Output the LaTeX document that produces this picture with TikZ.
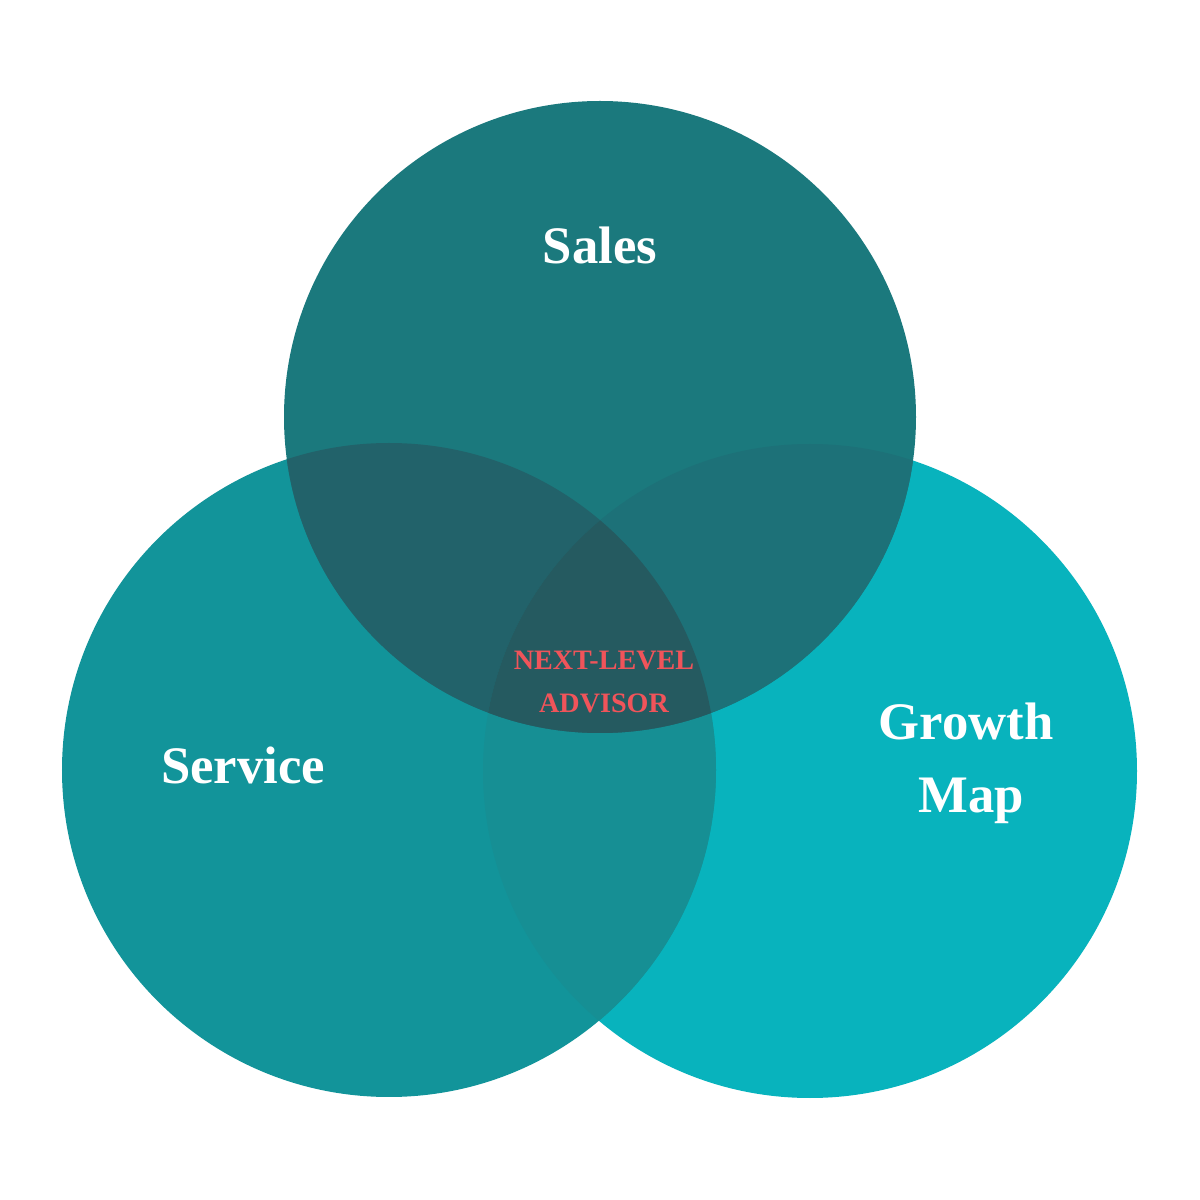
\documentclass[tikz,border=0pt]{standalone}
\usepackage{fontspec}
\setmainfont{Liberation Serif}
\definecolor{topc}{HTML}{1B797D}
\definecolor{leftc}{HTML}{12949A}
\definecolor{rightc}{HTML}{08B3BD}
\definecolor{tlc}{HTML}{22626A}
\definecolor{trc}{HTML}{1D7178}
\definecolor{lrc}{HTML}{168F94}
\definecolor{midc}{HTML}{255A60}
\definecolor{redc}{HTML}{F0545A}
\begin{document}
\begin{tikzpicture}[line join=round,line cap=round,font=\bfseries]
				\def\r{3.27};
				\def\rt{3.16};
				\path
				(6,7.83) coordinate (S)
				(3.89,4.30) coordinate (V)
				(8.10,4.29) coordinate (G)
				;
				\fill[white] (0,0) rectangle (12,12);
				\useasboundingbox (0,0) rectangle (12,12);
				\fill[rightc] (G) circle (\r);
				\fill[leftc] (V) circle (\r);
				\fill[topc] (S) circle (\rt);
				\begin{scope}
					\clip (V) circle (\r);
					\fill[lrc] (G) circle (\r);
					\fill[tlc] (S) circle (\rt);
				\end{scope}
				\begin{scope}
					\clip (G) circle (\r);
					\fill[trc] (S) circle (\rt);
					\clip (V) circle (\r);
					\fill[midc] (S) circle (\rt);
				\end{scope}
				\foreach \p/\t in {{6,9.55}/Sales,{2.43,4.35}/Service}\node[white,font=\fontsize{15}{20}\bfseries] at (\p) {\t};
				\node[white,align=center,font=\fontsize{15}{20.8}\bfseries] (gm) at (9.66,4.37) {Growth\\\hspace*{0.2em}Map};
				\node[redc,align=center,font=\fontsize{8}{12.2}\bfseries] (nl) at (6.04,5.18) {NEXT-LEVEL\\ADVISOR};
			\end{tikzpicture}
\end{document}
